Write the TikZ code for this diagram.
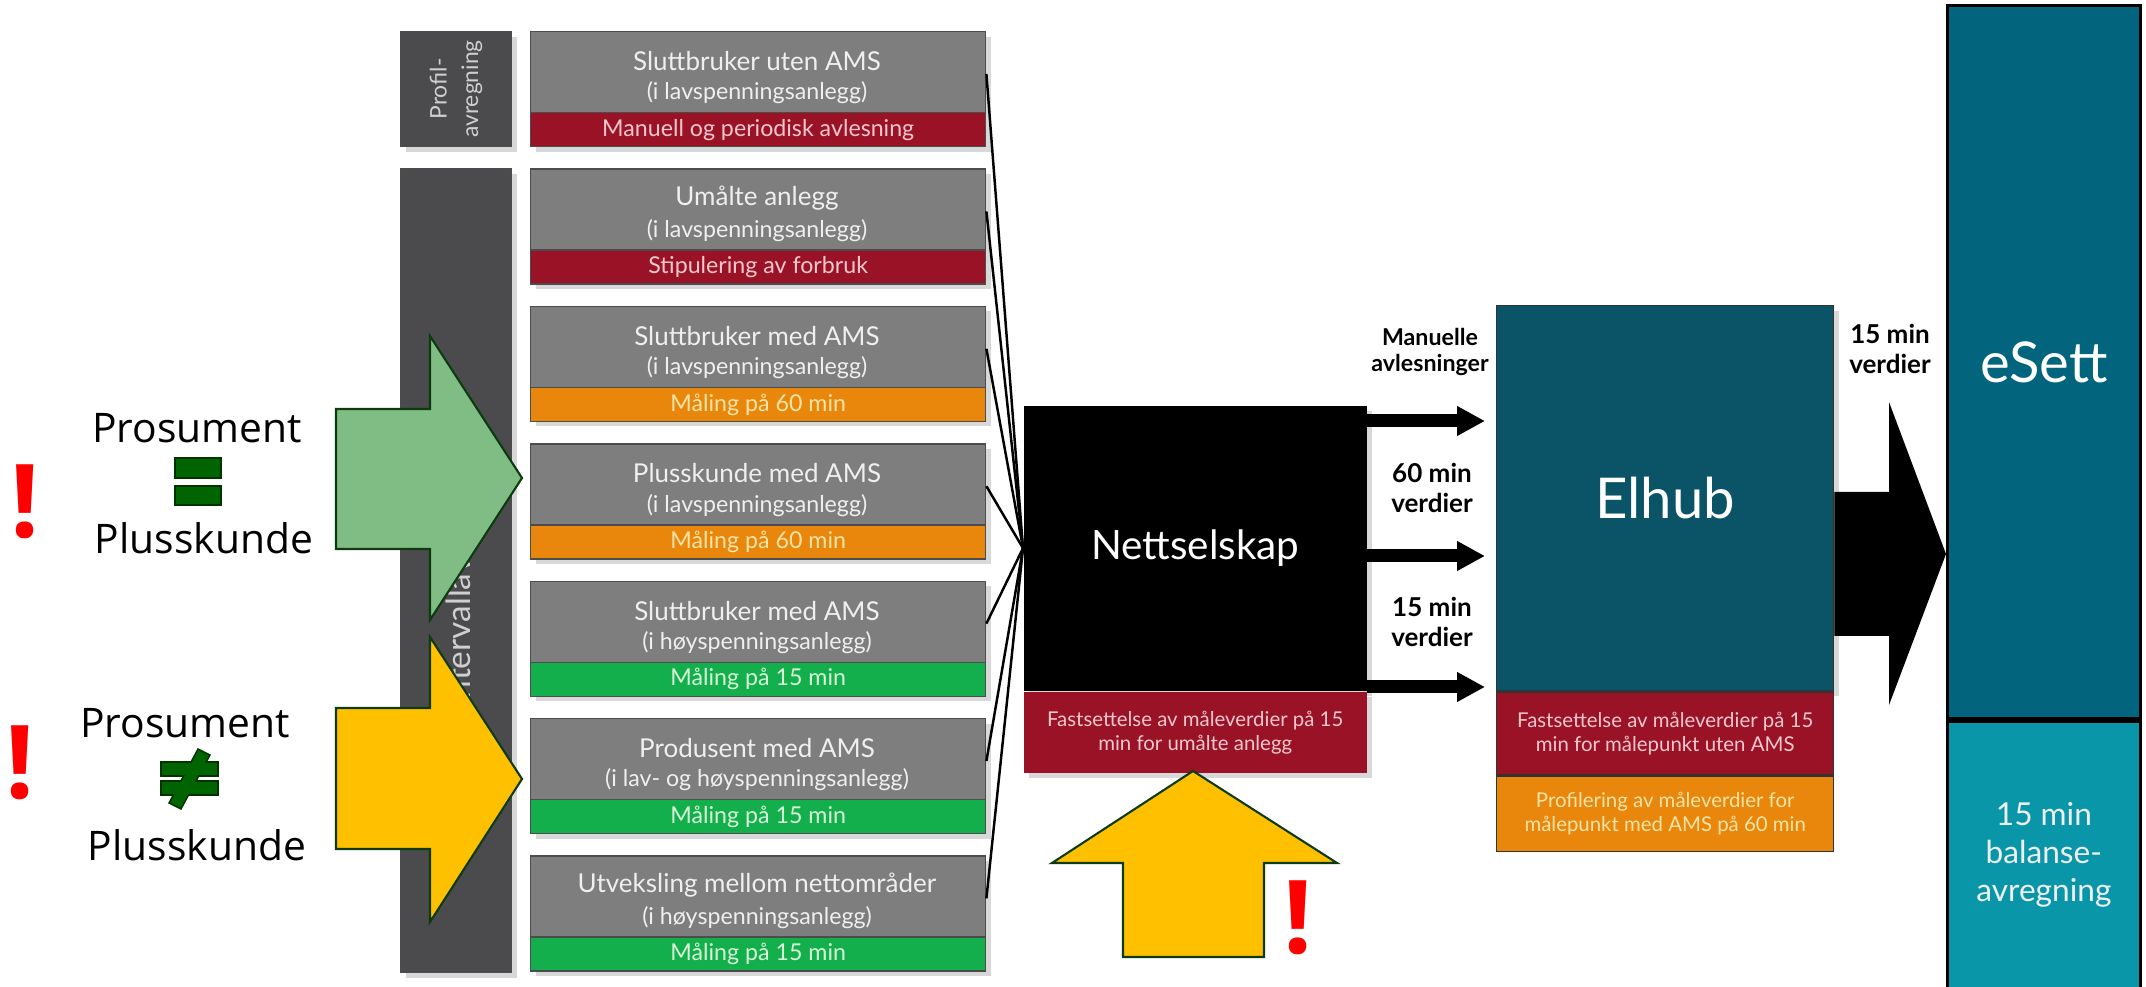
\documentclass[tikz,border=0pt]{standalone}
\usepackage{fontspec}
\setmainfont{Lato}
\newfontfamily\osans{Open Sans}
\usetikzlibrary{arrows.meta,shadows}
\definecolor{colbg}{HTML}{4B4B4D}
\definecolor{boxgrey}{HTML}{7E7E7E}
\definecolor{bandred}{HTML}{9A1226}
\definecolor{bandorange}{HTML}{E8870C}
\definecolor{bandgreen}{HTML}{13AF4C}
\definecolor{txtlight}{HTML}{EFEFEF}
\definecolor{txtcol}{HTML}{CFCFCF}
\definecolor{txtred}{HTML}{F6C8CE}
\definecolor{txtorange}{HTML}{FDE4A6}
\definecolor{txtgreen}{HTML}{D8F8D8}
\definecolor{elhubc}{HTML}{0B5366}
\definecolor{esettc}{HTML}{02657D}
\definecolor{esettlow}{HTML}{0996A9}
\definecolor{arrgreen}{HTML}{80BD84}
\definecolor{arryellow}{HTML}{FFC000}
\definecolor{arredge}{HTML}{0E3A10}
\definecolor{eqgreen}{HTML}{006400}
\definecolor{exclred}{HTML}{FF0000}
\newcommand\mkrow[7]{%
  \node[gbox, anchor=north west] (#1) at (530,#2) {};
  \node[bandbox, fill=#5, text=#6, anchor=south] (#1b) at (#1.south) {#7};
  \node[titletxt] (#1t) at (757,#2+30) {#3};
  \node[subtxt] (#1s) at (757,#2+62) {#4};
}
\begin{document}
\begin{tikzpicture}[x=0.1mm,y=-0.1mm,
  shad/.style={drop shadow={shadow xshift=0.5mm, shadow yshift=-0.5mm, opacity=0.3}},
  colbox/.style={fill=colbg, draw=black!70, line width=0.3pt, inner sep=0, shad},
  gbox/.style={fill=boxgrey, draw=black!70, line width=0.4pt, minimum width=45.5mm, minimum height=11.5mm, inner sep=0, shad},
  bandbox/.style={draw=black!70, line width=0.4pt, minimum width=45.5mm, minimum height=3.4mm, inner sep=0, font=\fontsize{6.6}{7}\selectfont},
  titletxt/.style={text=txtlight, font=\fontsize{7.4}{8}\selectfont, inner sep=0},
  subtxt/.style={text=txtlight, font=\fontsize{6.6}{7}\selectfont, inner sep=0},
  fan/.style={draw=black, line width=0.7pt},
  flowarr/.style={line width=1.3mm, -{Triangle[length=2.8mm,width=2.8mm]}, shorten >=1.1mm},
  flowlbl/.style={font=\bfseries\fontsize{7.4}{8.3}\selectfont, align=center, inner sep=0},
  bandtxt/.style={align=center, font=\fontsize{5.8}{6.8}\selectfont, inner sep=0},
  blockarr/.style={draw=arredge, line width=0.6pt},
  prolbl/.style={font=\osans\fontsize{11.6}{12}\selectfont, inner sep=0},
  excl/.style={text=exclred, font=\osans\bfseries\fontsize{29}{29}\selectfont, anchor=base, inner sep=0}]
\useasboundingbox (0,0) rectangle (2146,987);
\fill[white] (0,0) rectangle (2146,987);

% left columns
\node[colbox, anchor=north west, minimum width=11.1mm, minimum height=11.5mm] (prof) at (400,31) {};
\node[rotate=90, text=txtcol, align=center, font=\fontsize{6.5}{9}\selectfont] (proftxt) at (prof.center) {Profil-\\avregning};
\node[colbox, anchor=north west, minimum width=11.1mm, minimum height=80.4mm] (intv) at (400,168) {};
\node[rotate=90, anchor=base, text=txtcol, font=\fontsize{9.5}{10}\selectfont, inner sep=0] (intvtxt) at (470,578) {Intervallavregning};

% Nettselskap
\node[fill=black, minimum width=34.3mm, minimum height=28.5mm, inner sep=0, anchor=north west, text=white, font=\fontsize{11.5}{12}\selectfont, shad] (net) at (1023,405) {Nettselskap};
\node[fill=bandred, minimum width=34.3mm, minimum height=8.1mm, inner sep=0, anchor=north, text=txtred, bandtxt, shad] (netband) at (net.south) {Fastsettelse av måleverdier på 15\\min for umålte anlegg};

% boxes
\mkrow{b1}{31}{Sluttbruker uten AMS}{(i lavspenningsanlegg)}{bandred}{txtred}{Manuell og periodisk avlesning}
\mkrow{b2}{168.4}{Umålte anlegg}{(i lavspenningsanlegg)}{bandred}{txtred}{Stipulering av forbruk}
\mkrow{b3}{305.8}{Sluttbruker med AMS}{(i lavspenningsanlegg)}{bandorange}{txtorange}{Måling på 60 min}
\mkrow{b4}{443.2}{Plusskunde med AMS}{(i lavspenningsanlegg)}{bandorange}{txtorange}{Måling på 60 min}
\mkrow{b5}{580.6}{Sluttbruker med AMS}{(i høyspenningsanlegg)}{bandgreen}{txtgreen}{Måling på 15 min}
\mkrow{b6}{718}{Produsent med AMS}{(i lav- og høyspenningsanlegg)}{bandgreen}{txtgreen}{Måling på 15 min}
\mkrow{b7}{855.4}{Utveksling mellom nettområder}{(i høyspenningsanlegg)}{bandgreen}{txtgreen}{Måling på 15 min}

\foreach \b in {b1,b2,b3,b4,b5,b6,b7}
  \draw[fan] ([yshift=-4.3mm]\b.north east) -- (net.west);

% Elhub
\node[fill=elhubc, draw=black!80, minimum width=33.7mm, minimum height=38.5mm, inner sep=0, anchor=north west, text=white, font=\fontsize{16}{16}\selectfont, shad] (elhub) at (1496,305) {Elhub};
\node[fill=bandred, draw=black!80, minimum width=33.7mm, minimum height=8.3mm, inner sep=0, anchor=north, text=txtred, bandtxt] (elred) at (elhub.south) {Fastsettelse av måleverdier på 15\\min for målepunkt uten AMS};
\node[fill=bandorange, draw=black!80, minimum width=33.7mm, minimum height=7.5mm, inner sep=0, anchor=north, text=txtorange, bandtxt] (elor) at (elred.south) {Profilering av måleverdier for\\målepunkt med AMS på 60 min};

% eSett
\node[fill=esettc, draw=black, line width=0.8pt, minimum width=19.3mm, minimum height=71.3mm, inner sep=0, anchor=north west, text=white, font=\fontsize{16}{16}\selectfont] (esett) at (1946,4) {eSett};
\node[fill=esettlow, draw=black, line width=0.8pt, minimum width=19.3mm, minimum height=26.8mm, inner sep=0, anchor=north, text=txtlight, align=center, font=\fontsize{9}{10.8}\selectfont] (esettb) at (esett.south) {15 min\\balanse-\\avregning};

% arrows Nettselskap -> Elhub
\coordinate (a1) at ([yshift=-1.6mm]net.north east);
\coordinate (a2) at ([yshift=-15.1mm]net.north east);
\coordinate (a3) at ([yshift=-28.2mm]net.north east);
\draw[flowarr] (a1) -- (a1 -| elhub.west);
\draw[flowarr] (a2) -- (a2 -| elhub.west);
\draw[flowarr] (a3) -- (a3 -| elhub.west);
\node[flowlbl, font=\bfseries\fontsize{6.6}{7.6}\selectfont] (lman) at (1430,352) {Manuelle\\avlesninger};
\node[flowlbl] (l60) at (1432,488) {60 min\\verdier};
\node[flowlbl] (l15) at (1432,622) {15 min\\verdier};
\node[flowlbl] (l15b) at (1890,349) {15 min\\verdier};

% big arrow Elhub -> eSett
\fill[black] (elhub.east |- 0,492) -- (1889,492) -- (1889,402) -- (esett.west |- 0,554) -- (1889,705) -- (1889,636) -- (elhub.east |- 0,636) -- cycle;

% block arrows
\filldraw[blockarr, fill=arrgreen] (336,409) -- (430,409) -- (430,336) -- (522,478) -- (430,620) -- (430,549) -- (336,549) -- cycle;
\filldraw[blockarr, fill=arryellow] (336,708) -- (430,708) -- (430,637) -- (522,779) -- (430,922) -- (430,849) -- (336,849) -- cycle;
\filldraw[blockarr, fill=arryellow] (1193,771) -- (1337,863) -- (1264,863) -- (1264,957) -- (1123,957) -- (1123,863) -- (1052,863) -- cycle;

% Prosument labels
\node[prolbl] (p1) at (197,428) {Prosument};
\filldraw[draw=black!80!green, fill=eqgreen, line width=0.4pt] (175,458) rectangle (221,478);
\filldraw[draw=black!80!green, fill=eqgreen, line width=0.4pt] (175,486) rectangle (221,505);
\node[prolbl] (q1) at (204,538) {Plusskunde};

\node[prolbl] (p2) at (185,723) {Prosument};
\filldraw[draw=black!80!green, fill=eqgreen, line width=0.4pt] (161,762) rectangle (218,776);
\filldraw[draw=black!80!green, fill=eqgreen, line width=0.4pt] (161,781) rectangle (218,795);
\filldraw[draw=black!80!green, fill=eqgreen, line width=0.4pt] (198,749) -- (210,755) -- (181,809) -- (169,803) -- cycle;
\fill[eqgreen] (162,763) rectangle (217,775);
\fill[eqgreen] (162,782) rectangle (217,794);
\node[prolbl] (q2) at (197,845) {Plusskunde};

% exclamation marks
\node[excl] (e1) at (25,538) {!};
\node[excl] (e2) at (20,798) {!};
\node[excl] (e3) at (1298,953) {!};
\end{tikzpicture}
\end{document}
